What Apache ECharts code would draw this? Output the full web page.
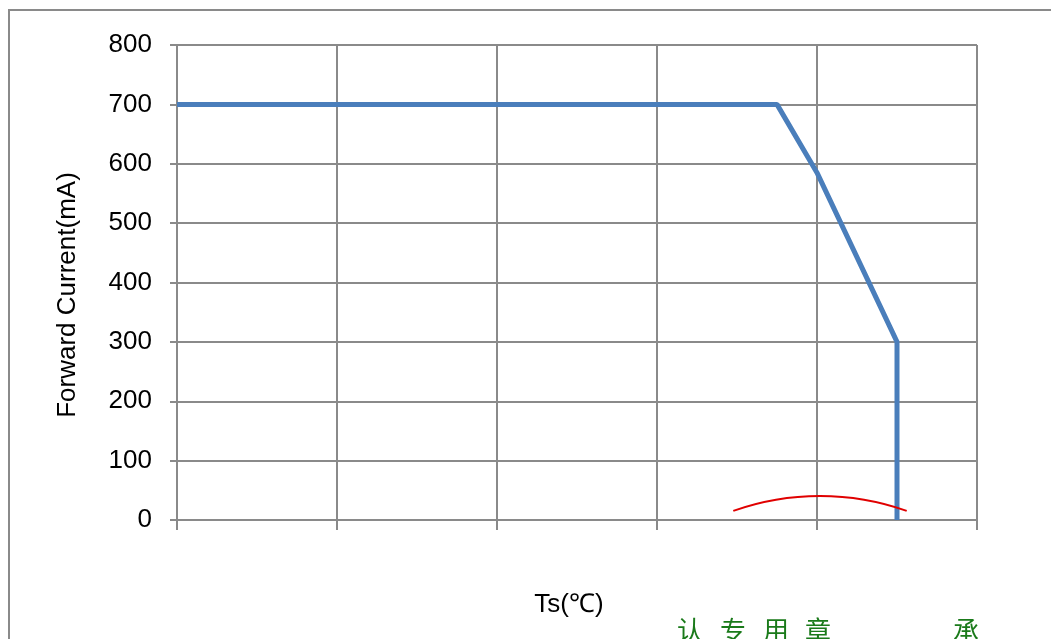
<!DOCTYPE html>
<html>
<head>
<meta charset="utf-8">
<script src="https://cdn.jsdelivr.net/npm/echarts@6/dist/echarts.min.js"></script>
<style>
html,body{margin:0;padding:0;background:#fff;}
#c{width:1051px;height:639px;}
</style>
</head>
<body>
<div id="c"></div>
<script>
// Data
var tempValues = [0, 75, 80, 90, 90];          // Ts (℃)
var currentValues = [700, 700, 585, 300, 0];   // Forward Current (mA)
var yTicks = [0, 100, 200, 300, 400, 500, 600, 700, 800];
var yTitle = 'Forward Current(mA)';
var xTitle = 'Ts(℃)';
var stampChars = ['认', '专', '用', '章', '承'];

var chart = echarts.init(document.getElementById('c'), null, {renderer: 'canvas'});
var gridColor = '#8a8a8a';
var font = '"Liberation Sans", Arial, sans-serif';

var pts = tempValues.map(function (t, i) { return [t, currentValues[i]]; });

var stampX = [690, 733, 776, 818, 966];
var graphics = [
  {type: 'polyline', shape: {points: [[9, 639], [9, 10], [1051, 10]]},
   style: {stroke: gridColor, lineWidth: 2, fill: null}, silent: true},
  {type: 'text', x: 68, y: 295, rotation: Math.PI / 2,
   style: {text: yTitle, font: '26px ' + font, fill: '#000', textAlign: 'center', textVerticalAlign: 'middle'}},
  {type: 'text', x: 569, y: 605,
   style: {text: xTitle, font: '26px ' + font, fill: '#000', textAlign: 'center', textVerticalAlign: 'middle'}},
  {type: 'arc', shape: {cx: 820, cy: 756, r: 260, startAngle: -Math.PI / 2 - 0.34, endAngle: -Math.PI / 2 + 0.34, clockwise: true},
   style: {stroke: '#e00000', lineWidth: 2, fill: null}, z: 100}
];
stampChars.forEach(function (ch, i) {
  graphics.push({type: 'text', x: stampX[i], y: 630, z: 100,
    style: {text: ch, font: '26px "Noto Sans CJK SC", sans-serif', fill: '#1a7a1a', textAlign: 'center', textVerticalAlign: 'middle'}});
});

chart.setOption({
  animation: false,
  backgroundColor: '#fff',
  grid: {left: 177, right: 74, top: 45, bottom: 119, containLabel: false},
  xAxis: {
    type: 'value', min: 0, max: 100, interval: 20,
    axisLine: {show: true, lineStyle: {color: gridColor, width: 2}},
    axisTick: {show: true, length: 10, inside: false, lineStyle: {color: gridColor, width: 2}},
    axisLabel: {show: false},
    splitLine: {show: true, lineStyle: {color: gridColor, width: 2}}
  },
  yAxis: {
    type: 'value', min: yTicks[0], max: yTicks[yTicks.length - 1], interval: 100,
    axisLine: {show: true, lineStyle: {color: gridColor, width: 2}},
    axisTick: {show: true, length: 7, lineStyle: {color: gridColor, width: 2}},
    axisLabel: {show: true, margin: 25, fontSize: 26, fontFamily: font, color: '#000'},
    splitLine: {show: true, lineStyle: {color: gridColor, width: 2}}
  },
  series: [{
    type: 'line', data: pts, showSymbol: false, symbol: 'none',
    lineStyle: {color: '#4a7ebb', width: 5}, z: 10
  }],
  graphic: graphics
});
</script>
</body>
</html>
